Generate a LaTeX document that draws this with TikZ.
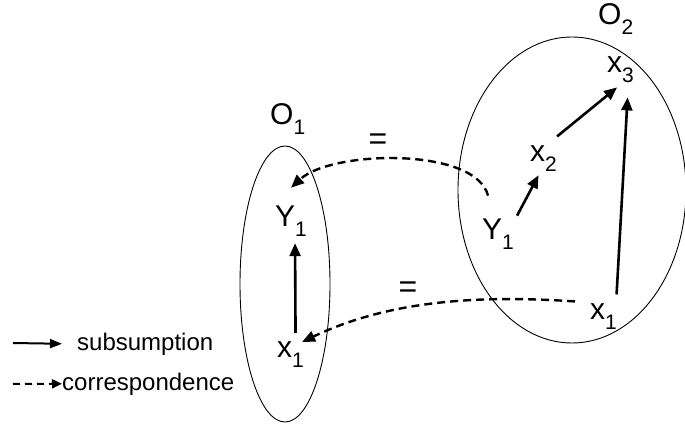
\documentclass[tikz,border=0pt]{standalone}
\usepackage{fontspec}
\setmainfont{Liberation Sans}
\usetikzlibrary{arrows.meta}
\newcommand{\ix}[1]{\raisebox{-9.5pt}{\fontsize{21}{24}\selectfont #1}}
\tikzset{
  subarr/.style  = {-{Triangle[length=13pt,width=11pt]},line width=2.6pt},
  corrarr/.style = {-{Triangle[length=13pt,width=11pt]},line width=2.4pt,dash pattern=on 8pt off 5pt},
  legsub/.style  = {-{Triangle[length=12pt,width=9pt]},line width=2pt},
  legcorr/.style = {-{Triangle[length=10pt,width=9pt]},line width=2pt,dash pattern=on 7pt off 5pt},
  lbl/.style     = {anchor=base west,inner sep=0pt,font=\fontsize{30}{36}\selectfont},
  eqsign/.style  = {inner sep=0pt,font=\fontsize{32}{36}\selectfont},
  legtxt/.style  = {anchor=base west,inner sep=0pt,font=\fontsize{24}{28}\selectfont},
  onto/.style    = {line width=0.9pt}
}

\begin{document}
\begin{tikzpicture}[x=1pt,y=-1pt]
  \useasboundingbox (0,0) rectangle (685,427);
  % the two ontologies
  \draw[onto] (285,284) ellipse [x radius=45pt,y radius=138pt];
  \draw[onto] (572,190) ellipse [x radius=114pt,y radius=153pt];
  \node[lbl] (oa) at (270,125) {O\ix{1}};
  \node[lbl] (ob) at (598,25)  {O\ix{2}};
  \node[lbl] (ya)  at (275,227) {Y\ix{1}};
  \node[lbl] (xa)  at (277,358) {x\ix{1}};
  \node[lbl] (yb)  at (482,240) {Y\ix{1}};
  \node[lbl] (xb1) at (590,320) {x\ix{1}};
  \node[lbl] (xb2) at (530,162) {x\ix{2}};
  \node[lbl] (xb3) at (607,73)  {x\ix{3}};
  % subsumption
  \draw[subarr] ([xshift=5pt,yshift=9pt]xa.north) -- ([xshift=4pt,yshift=-6.5pt]ya.south);
  \draw[subarr] ([xshift=3pt,yshift=3.5pt]yb.north east) -- ([xshift=-5pt,yshift=-3.5pt]xb2.south);
  \draw[subarr] ([yshift=9.5pt]xb2.north east) -- ([xshift=-3.5pt,yshift=-4.5pt]xb3.south);
  \draw[subarr] ([xshift=-0.5pt,yshift=9.5pt]xb1.north east) -- ([xshift=-6.5pt,yshift=-14.5pt]xb3.south east);
  % correspondences
  \draw[corrarr] ([xshift=6pt,yshift=23.5pt]yb.north west) .. controls (476,147) and (332,150) .. ([yshift=18.5pt]ya.north);
  \draw[corrarr] ([xshift=-15pt,yshift=2.5pt]xb1.north west) .. controls (480,295) and (390,300) .. ([xshift=-2pt]xa.north east);
  \node[eqsign] (eqa) at (378,142) {=};
  \node[eqsign] (eqb) at (408,290) {=};
  % legend
  \coordinate (ls) at (13,343);
  \coordinate (lc) at (13,384);
  \node[legtxt] (lsub) at (77,350) {subsumption};
  \node[legtxt] (lcor) at (62,390) {correspondence};
  \draw[legsub]  (ls) -- ([xshift=-15pt]lsub.west);
  \draw[legcorr] (lc) -- (lcor.west);
\end{tikzpicture}
\end{document}
